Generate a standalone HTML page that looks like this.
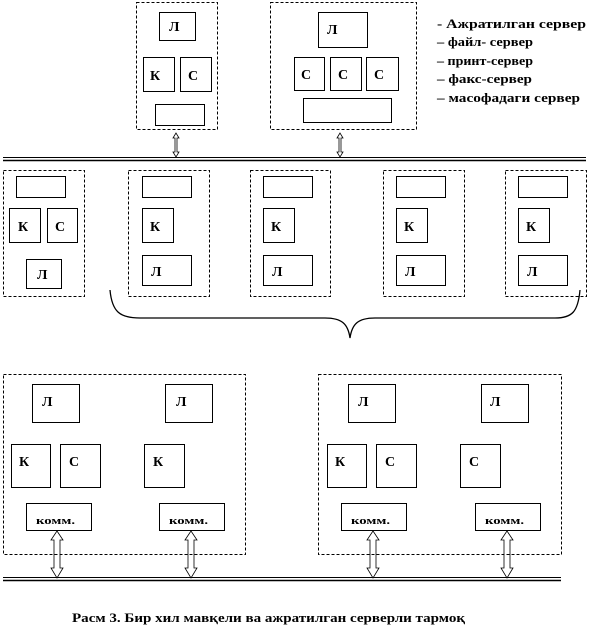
<!DOCTYPE html>
<html><head><meta charset="utf-8"><style>body{margin:0;background:#fff}svg{display:block}</style></head><body>
<svg width="605" height="641" viewBox="0 0 605 641" xmlns="http://www.w3.org/2000/svg" font-family="Liberation Serif, serif" font-weight="bold" font-size="14">
<g fill="none" stroke="#000" stroke-width="1">
<g stroke-dasharray="3,2">
<rect x="136.5" y="2.5" width="81" height="127"/>
<rect x="270.5" y="2.5" width="146" height="127"/>
<rect x="3.5" y="170.5" width="81" height="126"/>
<rect x="128.5" y="170.5" width="81" height="126"/>
<rect x="250.5" y="170.5" width="80" height="126"/>
<rect x="383.5" y="170.5" width="81" height="126"/>
<rect x="505.5" y="170.5" width="81" height="126"/>
<rect x="3.5" y="374.5" width="242" height="180"/>
<rect x="318.5" y="374.5" width="243" height="180"/>
</g>
<rect x="159.5" y="12.5" width="36" height="28"/>
<rect x="143.5" y="57.5" width="31" height="34"/>
<rect x="180.5" y="57.5" width="31" height="34"/>
<rect x="155.5" y="104.5" width="49" height="21"/>
<rect x="318.5" y="12.5" width="49" height="35"/>
<rect x="294.5" y="57.5" width="30" height="33"/>
<rect x="330.5" y="57.5" width="31" height="33"/>
<rect x="366.5" y="57.5" width="32" height="33"/>
<rect x="303.5" y="98.5" width="88" height="24"/>
<rect x="16.5" y="176.5" width="49" height="21"/>
<rect x="9.5" y="208.5" width="31" height="34"/>
<rect x="47.5" y="208.5" width="30" height="34"/>
<rect x="26.5" y="259.5" width="35" height="29"/>
<g id="c">
<rect x="142.5" y="176.5" width="49" height="21"/>
<rect x="142.5" y="208.5" width="31" height="34"/>
<rect x="142.5" y="255.5" width="49" height="30"/>
</g>
<use href="#c" x="121"/><use href="#c" x="254"/><use href="#c" x="376"/>
<rect x="32.5" y="384.5" width="47" height="38"/>
<rect x="165.5" y="384.5" width="47" height="38"/>
<rect x="11.5" y="444.5" width="39" height="43"/>
<rect x="60.5" y="444.5" width="40" height="43"/>
<rect x="144.5" y="444.5" width="40" height="43"/>
<rect x="26.5" y="503.5" width="65" height="27"/>
<rect x="159.5" y="503.5" width="65" height="27"/>
<rect x="348.5" y="384.5" width="47" height="38"/>
<rect x="481.5" y="384.5" width="47" height="38"/>
<rect x="327.5" y="444.5" width="39" height="43"/>
<rect x="376.5" y="444.5" width="40" height="43"/>
<rect x="460.5" y="444.5" width="40" height="43"/>
<rect x="341.5" y="503.5" width="65" height="27"/>
<rect x="475.5" y="503.5" width="65" height="27"/>
<line x1="3" y1="157.5" x2="586" y2="157.5"/>
<line x1="3" y1="160.5" x2="586" y2="160.5" stroke-width="1.5"/>
<line x1="3" y1="577.5" x2="561" y2="577.5"/>
<line x1="3" y1="580.5" x2="561" y2="580.5" stroke-width="1.5"/>
<path d="M176 133 l-3 5 h2 v14 h-2 l3 5 l3-5 h-2 v-14 h2 z" stroke-width="0.8"/>
<path d="M340 133 l-3 5 h2 v14 h-2 l3 5 l3-5 h-2 v-14 h2 z" stroke-width="0.8"/>
<g id="a"><path d="M57 531 l-6 9 h3 v28 h-3 l6 10 l6-10 h-3 v-28 h3 z" stroke-width="0.8"/></g>
<use href="#a" x="134"/><use href="#a" x="316"/><use href="#a" x="450"/>
<path d="M110 290 C112 312 120 318 140 318 H325 C342 318 348 324 350 338 C352 324 358 318 375 318 H555 C572 318 578 312 580 290" stroke-width="1.3"/>
</g>
<g fill="#000">
<text x="169" y="31">Л</text>
<text x="150" y="80">К</text><text x="188" y="80">С</text>
<text x="327" y="34">Л</text>
<text x="301" y="79">С</text><text x="338" y="79">С</text><text x="374" y="79">С</text>
<text x="18" y="231">К</text><text x="55" y="231">С</text><text x="37" y="279">Л</text>
<g id="t"><text x="150" y="231">К</text><text x="151" y="276">Л</text></g>
<use href="#t" x="121"/><use href="#t" x="254"/><use href="#t" x="376"/>
<text x="42" y="406">Л</text><text x="176" y="406">Л</text>
<text x="19" y="466">К</text><text x="69" y="466">С</text><text x="153" y="466">К</text>
<text x="358" y="406">Л</text><text x="490" y="406">Л</text>
<text x="335" y="466">К</text><text x="385" y="466">С</text><text x="469" y="466">С</text>
<g font-size="11"><text x="36" y="524" textLength="39" lengthAdjust="spacingAndGlyphs">комм.</text>
<text x="169" y="524" textLength="39" lengthAdjust="spacingAndGlyphs">комм.</text>
<text x="351" y="524" textLength="39" lengthAdjust="spacingAndGlyphs">комм.</text>
<text x="485" y="524" textLength="39" lengthAdjust="spacingAndGlyphs">комм.</text></g>
<g font-size="13">
<text x="437" y="28" textLength="149" lengthAdjust="spacingAndGlyphs">- Ажратилган  сервер</text>
<text x="437" y="46" textLength="96" lengthAdjust="spacingAndGlyphs">– файл- сервер</text>
<text x="437" y="65" textLength="96" lengthAdjust="spacingAndGlyphs">– принт-сервер</text>
<text x="437" y="83" textLength="95" lengthAdjust="spacingAndGlyphs">– факс-сервер</text>
<text x="437" y="102" textLength="143" lengthAdjust="spacingAndGlyphs">– масофадаги сервер</text>
<text x="72" y="622" textLength="393" lengthAdjust="spacingAndGlyphs">Расм 3. Бир хил мавқели ва ажратилган  серверли тармоқ</text>
</g>
</g>
</svg>
</body></html>
